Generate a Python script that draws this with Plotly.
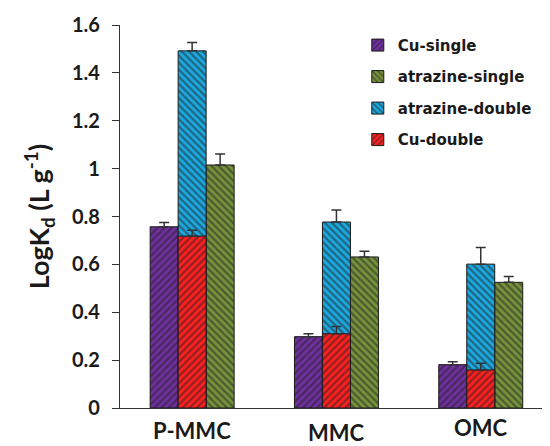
import plotly.graph_objects as go

categories = ["P-MMC", "MMC", "OMC"]
cu_single = [0.757, 0.298, 0.181]
cu_single_err = [0.018, 0.012, 0.012]
atrazine_single = [1.015, 0.631, 0.525]
atrazine_single_err = [0.046, 0.024, 0.024]
atrazine_double = [1.492, 0.777, 0.601]
atrazine_double_err = [0.035, 0.05, 0.07]
cu_double = [0.718, 0.31, 0.159]
cu_double_err = [0.025, 0.03, 0.028]
y_ticks = [0, 0.2, 0.4, 0.6, 0.8, 1, 1.2, 1.4, 1.6]
y_tick_text = ["0", "0.2", "0.4", "0.6", "0.8", "1", "1.2", "1.4", "1.6"]
label_shift = [-22, -24, -19]

FONT = "Lato"
W = 0.194
series = [
    ("Cu-single", cu_single, cu_single_err, "#7030A0", "/", -1.5 * W),
    ("atrazine-single", atrazine_single, atrazine_single_err, "#77933C", "\\", 0.5 * W),
    ("atrazine-double", atrazine_double, atrazine_double_err, "#1CA9E0", "\\", -0.5 * W),
    ("Cu-double", cu_double, cu_double_err, "#FF2020", "/", -0.5 * W),
]

fig = go.Figure()
for i, (name, vals, errs, col, shp, off) in enumerate(series):
    fig.add_trace(go.Bar(
        x=categories, y=vals, name=name, width=W, offset=off,
        legendgroup=name,
        marker=dict(color=col, line=dict(color="#1a1a1a", width=1),
                    pattern=dict(shape=shp, fgcolor="#222222", bgcolor=col,
                                 size=5, solidity=0.45)),
        error_y=dict(type="data", symmetric=False, array=errs,
                     arrayminus=[0] * len(errs), color="#333333",
                     thickness=1.5, width=5),
    ))

for c, s in zip(categories, label_shift):
    fig.add_annotation(x=c, y=0, xref="x", yref="y", text=c, showarrow=False,
                       yshift=s, font=dict(family=FONT, size=22, color="#1a1a1a", weight="bold"))

fig.update_layout(
    width=542, height=438,
    margin=dict(l=112, r=0, t=17, b=38),
    paper_bgcolor="white", plot_bgcolor="white",
    barmode="overlay",
    showlegend=True,
    legend=dict(x=0.553, y=0.99, xanchor="left", yanchor="top",
                font=dict(family="DejaVu Sans", size=15, color="#1a1a1a", weight="bold"),
                tracegroupgap=9, traceorder="grouped", bgcolor="rgba(0,0,0,0)",
                itemwidth=30),
    xaxis=dict(range=[-0.5, 2.48], showticklabels=False, ticks="",
               showline=True, linecolor="#333333", linewidth=1.2,
               showgrid=False, zeroline=False),
    yaxis=dict(range=[0, 1.6], tickvals=y_ticks, ticktext=y_tick_text,
               ticks="outside", ticklen=7, tickwidth=1.2, tickcolor="#333333",
               ticklabelstandoff=8,
               showline=True, linecolor="#333333", linewidth=1.2,
               showgrid=False, zeroline=False,
               tickfont=dict(family=FONT, size=20, color="#1a1a1a", weight="bold"),
               title=dict(text="LogK<sub>d</sub> (L g<sup>-1</sup>)", standoff=14,
                          font=dict(family=FONT, size=27, color="#1a1a1a", weight="bold"))),
)

fig.write_html("out.html")
